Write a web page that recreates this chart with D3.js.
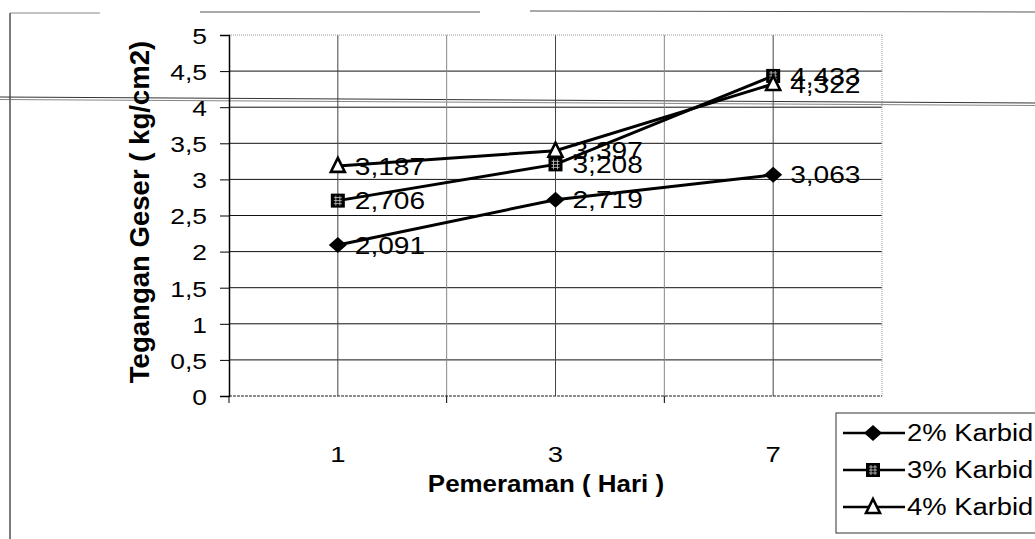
<!DOCTYPE html>
<html>
<head>
    <script src="https://cdnjs.cloudflare.com/ajax/libs/d3/7.8.5/d3.min.js"></script>
    <style>
        body { margin: 0; background: #fff; }
        text { font-family: Arial, "Liberation Sans", sans-serif; fill: #000; }
    </style>
</head>
<body>
    <div id="chart"></div>
    <script>
        const days = ["1", "3", "7"]
        const seriesNames = ["2% Karbid", "3% Karbid", "4% Karbid"]
        const karbid2 = [2.091, 2.719, 3.063]
        const karbid3 = [2.706, 3.208, 4.433]
        const karbid4 = [3.187, 3.397, 4.322]
        const yTicks = [0, 0.5, 1, 1.5, 2, 2.5, 3, 3.5, 4, 4.5, 5]

        const W = 1035, H = 539
        const plot = { left: 229, right: 882, top: 35, bottom: 396 }

        let svg = d3.select("#chart").append("svg").attr("width", W).attr("height", H)

        let x = d3.scaleBand().domain(days).range([plot.left, plot.right]).padding(0)
        let y = d3.scaleLinear().domain([0, 5]).range([plot.bottom, plot.top])
        let cx = d => x(d) + x.bandwidth() / 2

        // the scanned text is wider than Arial, so widen each text a bit
        function stretch(sel, f) {
            sel.each(function () {
                let len = this.getComputedTextLength()
                d3.select(this).attr("textLength", len * f).attr("lengthAdjust", "spacingAndGlyphs")
            })
        }

        // scan leftovers: outer frame and the crossing line
        svg.append("line").attr("x1", 10).attr("y1", 13).attr("x2", 10).attr("y2", H).attr("stroke", "#222").attr("stroke-width", 1.2)
        svg.append("line").attr("x1", 10).attr("y1", 13).attr("x2", 100).attr("y2", 13).attr("stroke", "#888").attr("stroke-width", 1)
        svg.append("line").attr("x1", 200).attr("y1", 12).attr("x2", 480).attr("y2", 12).attr("stroke", "#555").attr("stroke-width", 1)
        svg.append("line").attr("x1", 530).attr("y1", 11).attr("x2", 1035).attr("y2", 12).attr("stroke", "#555").attr("stroke-width", 1)
        svg.append("line").attr("x1", 0).attr("y1", 97).attr("x2", 1035).attr("y2", 103).attr("stroke", "#333").attr("stroke-width", 1)
        svg.append("line").attr("x1", 0).attr("y1", 99.5).attr("x2", 1035).attr("y2", 105.5).attr("stroke", "#666").attr("stroke-width", 0.8)

        // gridlines
        let g = svg.append("g")
        yTicks.filter(t => t > 0 && t < 5).forEach(function (t) {
            g.append("line").attr("x1", plot.left).attr("x2", plot.right)
                .attr("y1", y(t)).attr("y2", y(t)).attr("stroke", "#111").attr("stroke-width", 1)
        })
        let vx = []
        days.forEach(function (d, i) {
            if (i > 0) vx.push({ v: x(d), c: "#888" })
            vx.push({ v: cx(d), c: "#444" })
        })
        vx.forEach(function (o) {
            g.append("line").attr("x1", o.v).attr("x2", o.v).attr("y1", plot.top).attr("y2", plot.bottom)
                .attr("stroke", o.c).attr("stroke-width", 1)
        })

        // plot frame
        g.append("line").attr("x1", plot.left).attr("x2", plot.right).attr("y1", plot.top).attr("y2", plot.top)
            .attr("stroke", "#999").attr("stroke-dasharray", "1,1")
        g.append("line").attr("x1", plot.right).attr("x2", plot.right).attr("y1", plot.top).attr("y2", plot.bottom)
            .attr("stroke", "#999").attr("stroke-dasharray", "1,1")
        g.append("line").attr("x1", plot.left).attr("x2", plot.right).attr("y1", plot.bottom).attr("y2", plot.bottom)
            .attr("stroke", "#222").attr("stroke-width", 1.2).attr("stroke-dasharray", "3,1")

        // y axis
        let yAxis = svg.append("g").attr("transform", `translate(${plot.left},0)`)
            .call(d3.axisLeft(y).tickValues(yTicks).tickSize(9).tickPadding(13)
                .tickFormat(d => String(d).replace(".", ",")))
        yAxis.attr("font-size", 22).attr("font-family", null)
        yAxis.select(".domain").attr("stroke", "#000").attr("stroke-width", 1.5)
        yAxis.selectAll(".tick line").attr("stroke", "#000")
        yAxis.selectAll("text").attr("font-size", 22).attr("dy", "0.38em")
        stretch(yAxis.selectAll("text"), 1.2)

        // x axis
        let xAxis = svg.append("g").attr("transform", `translate(0,${plot.bottom})`)
            .call(d3.axisBottom(x).tickSize(0).tickPadding(0))
        xAxis.attr("font-size", 22).attr("font-family", null)
        xAxis.select(".domain").remove()
        xAxis.selectAll("text").attr("font-size", 22).attr("y", 66).attr("dy", 0)
        stretch(xAxis.selectAll("text"), 1.25)
        ;[plot.left].concat(days.slice(1).map(d => x(d))).forEach(function (v) {
            xAxis.append("line").attr("x1", v).attr("x2", v).attr("y1", 0).attr("y2", 7).attr("stroke", "#000")
        })

        // titles
        let yTitle = svg.append("text").attr("transform", "translate(149,212) rotate(-90)")
            .attr("text-anchor", "middle")
            .style("font-size", "27px").style("font-weight", "bold").text("Tegangan Geser ( kg/cm2)")
        stretch(yTitle, 1.02)
        let xTitle = svg.append("text").attr("x", 546).attr("y", 492).attr("text-anchor", "middle")
            .style("font-size", "24px").style("font-weight", "bold").text("Pemeraman ( Hari )")
        stretch(xTitle, 1.08)

        // series
        const allSeries = [karbid2, karbid3, karbid4]
        const shapes = ["diamond", "square", "triangle"]

        function drawMarker(parent, shape, px, py) {
            if (shape === "diamond") {
                parent.append("path").attr("d", `M${px},${py - 8}L${px + 9},${py}L${px},${py + 8}L${px - 9},${py}Z`)
                    .attr("fill", "#000")
            } else if (shape === "square") {
                parent.append("rect").attr("x", px - 7).attr("y", py - 7).attr("width", 14).attr("height", 14)
                    .attr("fill", "#000")
                parent.append("path").attr("d", `M${px - 4},${py - 3}h8M${px - 4},${py}h8M${px - 4},${py + 3}h8M${px - 2},${py - 5}v10M${px + 2},${py - 5}v10`)
                    .attr("stroke", "#ccc").attr("stroke-width", 0.8).attr("fill", "none")
            } else {
                parent.append("path").attr("d", `M${px},${py - 8}L${px + 7},${py + 6}L${px - 7},${py + 6}Z`)
                    .attr("fill", "#fff").attr("stroke", "#000").attr("stroke-width", 2.6)
            }
        }

        let line = d3.line().x((d, i) => cx(days[i])).y(d => y(d))

        allSeries.forEach(function (vals) {
            svg.append("path").datum(vals).attr("d", line)
                .attr("fill", "none").attr("stroke", "#000").attr("stroke-width", 3)
        })
        allSeries.forEach(function (vals, s) {
            vals.forEach(function (v, i) {
                drawMarker(svg, shapes[s], cx(days[i]), y(v))
                let t = svg.append("text").attr("x", cx(days[i]) + 17).attr("y", y(v))
                    .attr("dy", "0.36em").style("font-size", "24px")
                    .text(v.toFixed(3).replace(".", ","))
                stretch(t, 1.17)
            })
        })

        // legend
        let lg = svg.append("g")
        lg.append("rect").attr("x", 836).attr("y", 413).attr("width", 210).attr("height", 120)
            .attr("fill", "#fff").attr("stroke", "#333").attr("stroke-width", 1)
        seriesNames.forEach(function (name, i) {
            let ly = 433 + i * 37
            lg.append("line").attr("x1", 843).attr("x2", 905).attr("y1", ly).attr("y2", ly)
                .attr("stroke", "#000").attr("stroke-width", 2.6)
            drawMarker(lg, shapes[i], 873, ly)
            let t = lg.append("text").attr("x", 907).attr("y", ly).attr("dy", "0.36em")
                .style("font-size", "23px").text(name)
            stretch(t, 1.19)
        })
    </script>
</body>
</html>
